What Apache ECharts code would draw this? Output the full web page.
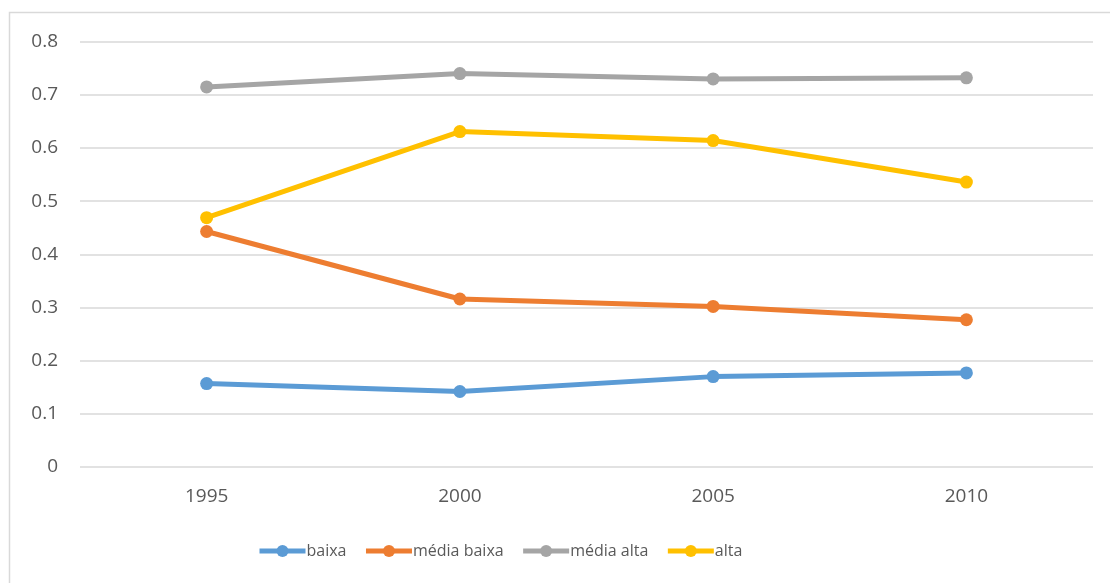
<!DOCTYPE html>
<html>
<head>
<meta charset="utf-8">
<script src="https://cdn.jsdelivr.net/npm/echarts@6/dist/echarts.min.js"></script>
<style>
html,body{margin:0;padding:0;background:#fff;}
#chart{width:1110px;height:583px;}
</style>
</head>
<body>
<div id="chart"></div>
<script>
// Years on the category axis
const years = ['1995', '2000', '2005', '2010'];
// Share per technology-intensity group
const baixa = [0.157, 0.142, 0.170, 0.177];
const mediaBaixa = [0.443, 0.316, 0.302, 0.277];
const mediaAlta = [0.715, 0.740, 0.730, 0.732];
const alta = [0.469, 0.631, 0.614, 0.536];

const seriesDefs = [
  { name: 'baixa', data: baixa, color: '#5B9BD5' },
  { name: 'média baixa', data: mediaBaixa, color: '#ED7D31' },
  { name: 'média alta', data: mediaAlta, color: '#A5A5A5' },
  { name: 'alta', data: alta, color: '#FFC000' }
];

const font = '"Open Sans", sans-serif';
const chart = echarts.init(document.getElementById('chart'));
chart.setOption({
  animation: false,
  backgroundColor: '#fff',
  graphic: [{
    type: 'rect',
    shape: { x: 9.5, y: 12.5, width: 1200, height: 700 },
    style: { fill: 'none', stroke: '#d9d9d9', lineWidth: 1.5 },
    silent: true
  }],
  grid: { left: 80, right: 17, top: 41.7, bottom: 116 },
  xAxis: {
    type: 'category',
    data: years,
    boundaryGap: true,
    axisLine: { show: false },
    axisTick: { show: false },
    axisLabel: { color: '#595959', fontSize: 19, fontFamily: font, margin: 20 }
  },
  yAxis: {
    type: 'value',
    min: 0, max: 0.8, interval: 0.1,
    axisLine: { show: false },
    axisTick: { show: false },
    splitLine: { lineStyle: { color: '#d9d9d9', width: 1.5 } },
    axisLabel: {
      color: '#595959', fontSize: 19, fontFamily: font, margin: 22,
      formatter: v => (Math.round(v * 10) / 10).toString()
    }
  },
  legend: {
    top: 538,
    left: 252,
    itemWidth: 46,
    itemHeight: 15,
    itemGap: 17,
    lineStyle: { width: 5 },
    textStyle: { color: '#595959', fontSize: 16, fontFamily: font, padding: [0, 0, 0, -4] },
    data: seriesDefs.map(s => s.name)
  },
  series: seriesDefs.map(s => ({
    name: s.name,
    type: 'line',
    data: s.data,
    symbol: 'circle',
    symbolSize: 13,
    color: s.color,
    lineStyle: { width: 5, color: s.color },
    itemStyle: { color: s.color }
  }))
});
</script>
</body>
</html>
